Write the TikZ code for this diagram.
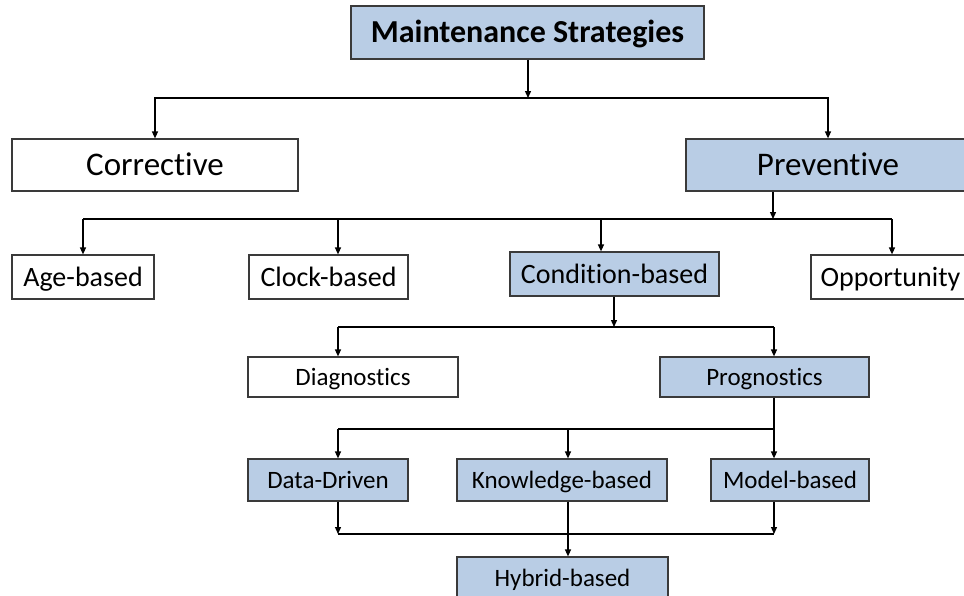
\documentclass[tikz,border=0pt]{standalone}
\usepackage{fontspec}
\setmainfont[RawFeature={-liga}]{Carlito}
\usetikzlibrary{arrows.meta}
\definecolor{boxfill}{HTML}{B9CDE5}
\definecolor{boxline}{HTML}{3A3A3A}
\begin{document}
\begin{tikzpicture}[x=1pt,y=-1pt,
  box/.style={draw=boxline,line width=1.2pt,inner sep=0pt,anchor=center,text=black},
  blue/.style={box,fill=boxfill},
  white/.style={box,fill=white},
  head/.style={font=\fontsize{32}{38}\selectfont\bfseries,text height=24pt,text depth=3.4pt},
  big/.style={font=\fontsize{33}{38}\selectfont,text height=24.75pt,text depth=3.5pt},
  mid/.style={font=\fontsize{28}{32}\selectfont,text height=21pt,text depth=3pt},
  small/.style={font=\fontsize{25}{29}\selectfont,text height=18.75pt,text depth=2.65pt},
  wire/.style={line width=1.3pt,black},
  arr/.style={wire,-{Triangle[length=7pt,width=6pt]}}]
\useasboundingbox (0,0) rectangle (964,595);

% level 0
\node[blue,head,minimum width=353pt,minimum height=53pt] (title) at (527.5,32.5) {Maintenance Strategies};
% level 1
\node[white,big,minimum width=286pt,minimum height=52pt] (corr) at (155,165) {Corrective};
\node[blue,big,minimum width=284pt,minimum height=52pt] (prev) at (828,165) {Preventive};
% level 2
\node[white,mid,minimum width=142pt,minimum height=44pt] (age) at (83,277) {Age-based};
\node[white,mid,minimum width=159pt,minimum height=44pt] (clock) at (328.5,277) {Clock-based};
\node[blue,mid,minimum width=209pt,minimum height=44pt] (cond) at (614.5,274) {Condition-based};
\node[white,mid,minimum width=159pt,minimum height=44pt] (opp) at (890.5,277) {Opportunity};
% level 3
\node[white,small,minimum width=210pt,minimum height=40pt] (diag) at (353,377) {Diagnostics};
\node[blue,small,minimum width=209pt,minimum height=40pt] (prog) at (764.5,377) {Prognostics};
% level 4
\node[blue,small,minimum width=160pt,minimum height=42pt] (data) at (328,480) {Data-Driven};
\node[blue,small,minimum width=210pt,minimum height=42pt] (know) at (562,480) {Knowledge-based};
\node[blue,small,minimum width=158pt,minimum height=42pt] (model) at (790,480) {Model-based};
% level 5
\node[blue,small,minimum width=211pt,minimum height=43pt] (hyb) at (562.5,578.5) {Hybrid-based};

% bus junctions
\coordinate (b1) at (528,98);
\coordinate (b2) at (773,219);
\coordinate (b2a) at (83,219);
\coordinate (b2b) at (338,219);
\coordinate (b2c) at (601,219);
\coordinate (b2d) at (892,219);
\coordinate (b3) at (614,327);
\coordinate (b3a) at (338,327);
\coordinate (b3b) at (774,327);
\coordinate (b4) at (774,429);
\coordinate (b4a) at (338,429);
\coordinate (b4b) at (568,429);
\coordinate (b5a) at (338,534);
\coordinate (b5b) at (774,534);
\coordinate (b5c) at (568,534);

% top split
\draw[arr] (b1 |- title.south) -- (b1);
\draw[arr] (b1) -| (corr.north);
\draw[arr] (b1) -| (prev.north);

% preventive split
\draw[arr] (b2 |- prev.south) -- (b2);
\draw[wire] (b2a) -- (b2d);
\draw[arr] (b2a) -- (b2a |- age.north);
\draw[arr] (b2b) -- (b2b |- clock.north);
\draw[arr] (b2c) -- (b2c |- cond.north);
\draw[arr] (b2d) -- (b2d |- opp.north);

% condition-based split
\draw[arr] (b3 |- cond.south) -- (b3);
\draw[wire] (b3a) -- (b3b);
\draw[arr] (b3a) -- (b3a |- diag.north);
\draw[arr] (b3b) -- (b3b |- prog.north);

% prognostics split
\draw[wire] (b4 |- prog.south) -- (b4);
\draw[wire] (b4a) -- (b4);
\draw[arr] (b4a) -- (b4a |- data.north);
\draw[arr] (b4b) -- (b4b |- know.north);
\draw[arr] (b4) -- (b4 |- model.north);

% merge into hybrid
\draw[arr] (b5a |- data.south) -- (b5a);
\draw[arr] (b5b |- model.south) -- (b5b);
\draw[wire] (b5a) -- (b5b);
\draw[arr] (b5c |- know.south) -- (b5c |- hyb.north);
\end{tikzpicture}
\end{document}
